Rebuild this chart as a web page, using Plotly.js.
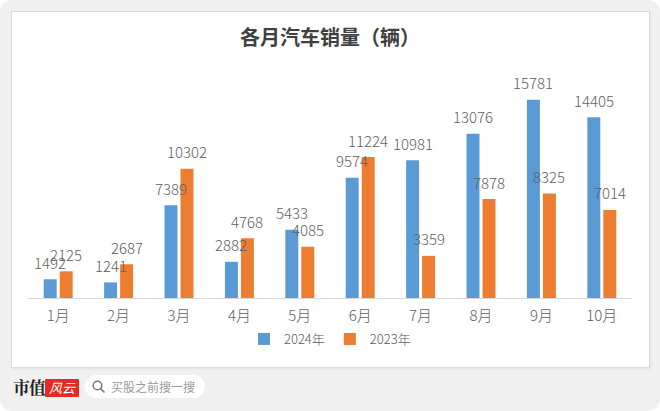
<!DOCTYPE html>
<html>
<head>
<meta charset="utf-8">
<script src="https://cdn.plot.ly/plotly-3.0.1.min.js"></script>
<style>
  html, body { margin:0; padding:0; background:#ffffff; }
  #wrap { position:relative; width:660px; height:411px; background:#f0f0f0; border-radius:12px; overflow:hidden; font-family:"Noto Sans CJK SC","Noto Sans",sans-serif; }
  #card { position:absolute; left:11px; top:11px; width:637px; height:355px; background:#ffffff; border:1px solid #dadada; box-shadow:1px 1px 2px rgba(0,0,0,0.06); }
  #chart { position:absolute; left:0; top:0; width:660px; height:411px; }
  #brand { position:absolute; left:13px; top:377px; font-size:17px; font-weight:bold; color:#222; font-family:"Noto Serif CJK SC","Noto Sans CJK SC",serif; letter-spacing:-1px; line-height:20px; }
  #logo { position:absolute; left:45px; top:379px; width:34px; height:18px; background:#e52a25; color:#fff; font-size:13px; font-style:italic; line-height:18px; text-align:center; border-radius:1px; }
  #search { position:absolute; left:85px; top:375px; width:120px; height:23px; background:#ffffff; border-radius:12px; }
  #search svg { position:absolute; left:7px; top:5px; }
  #search span { position:absolute; left:26px; top:3px; font-size:12px; color:#9a9a9a; line-height:17px; }
</style>
</head>
<body>
<div id="wrap">
  <div id="card"></div>
  <div id="chart"></div>
  <div id="brand">市值</div>
  <div id="logo">风云</div>
  <div id="search">
    <svg width="13" height="13" viewBox="0 0 13 13"><circle cx="5.5" cy="5.5" r="4.3" fill="none" stroke="#777" stroke-width="1.5"/><line x1="8.7" y1="8.7" x2="12" y2="12" stroke="#777" stroke-width="1.6" stroke-linecap="round"/></svg>
    <span>买股之前搜一搜</span>
  </div>
</div>
<script>
const months = ['1月','2月','3月','4月','5月','6月','7月','8月','9月','10月'];
const sales2024 = [1492, 1241, 7389, 2882, 5433, 9574, 10981, 13076, 15781, 14405];
const sales2023 = [2125, 2687, 10302, 4768, 4085, 11224, 3359, 7878, 8325, 7014];
const seriesNames = ['2024年', '2023年'];
const chartTitle = '各月汽车销量（辆）';

const FONT = '"Noto Sans CJK SC", "Noto Sans", sans-serif';
const BLUE = '#5B9BD5', ORANGE = '#ED7D31', TXT = '#595959';

const W = 660, H = 411;
const margin = {l:28, r:28, t:72, b:113};
const bargap = 0.47, bargroupgap = 0.19;
const plotW = W - margin.l - margin.r;
const catW = plotW / months.length;
const slot = catW * (1 - bargap) / 2;

const traces = [
  {type:'bar', name:seriesNames[0], x:months, y:sales2024, marker:{color:BLUE}, hoverinfo:'x+y'},
  {type:'bar', name:seriesNames[1], x:months, y:sales2023, marker:{color:ORANGE}, hoverinfo:'x+y'}
];

const annotations = [];
[sales2024, sales2023].forEach((arr, si) => {
  arr.forEach((v, i) => {
    annotations.push({
      x: months[i], y: v, xref:'x', yref:'y',
      text: String(v), showarrow:false,
      xanchor:'center', yanchor:'middle',
      xshift: (si === 0 ? -1 : 1) * slot / 2,
      yshift: 17,
      font:{family:FONT, size:15, color:'#606060', weight:300}
    });
  });
});

const layout = {
  width:W, height:H,
  margin:margin,
  paper_bgcolor:'rgba(0,0,0,0)',
  plot_bgcolor:'rgba(0,0,0,0)',
  barmode:'group', bargap:bargap, bargroupgap:bargroupgap,
  title:{text:'<b>'+chartTitle+'</b>', x:0.5, xanchor:'center', xref:'paper',
         y:1 - 38/H, yanchor:'middle', yref:'container',
         font:{family:FONT, size:20, color:'#404040'}},
  xaxis:{showline:true, linecolor:'#d9d9d9', linewidth:1, ticks:'', showgrid:false, zeroline:false,
         tickfont:{family:FONT, size:15, color:'#606060', weight:300}, ticklabelstandoff:4, fixedrange:true},
  yaxis:{range:[0,18000], visible:false, showgrid:false, zeroline:false, fixedrange:true},
  showlegend:true,
  legend:{orientation:'h', x:0.5, xanchor:'center', y:(298-339)/(H-margin.t-margin.b), yanchor:'middle',
          font:{family:FONT, size:13, color:TXT, weight:300}, itemwidth:30, bgcolor:'rgba(0,0,0,0)'},
  annotations:annotations
};

Plotly.newPlot('chart', traces, layout, {displayModeBar:false, staticPlot:true});
</script>
</body>
</html>
